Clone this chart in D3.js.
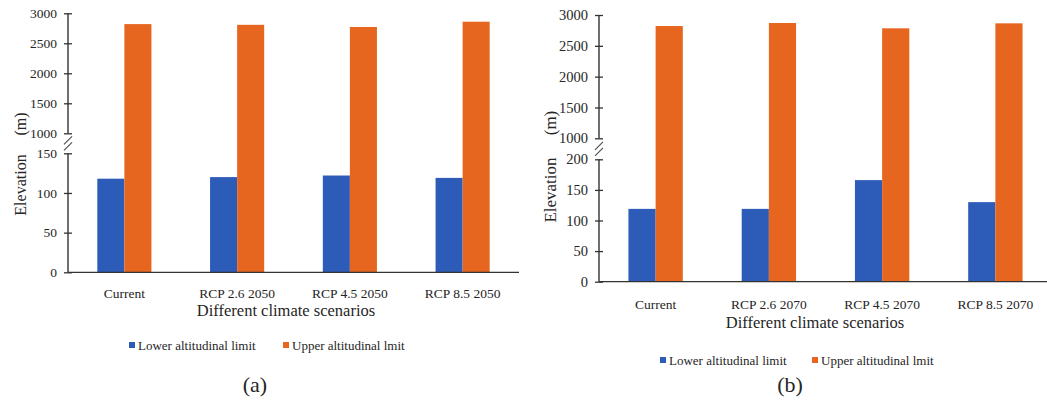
<!DOCTYPE html>
<html>
<head>
<meta charset="utf-8">
<script src="https://cdn.jsdelivr.net/npm/d3@7"></script>
<style>
  html, body { margin: 0; padding: 0; background: #fff; }
  svg { display: block; }
</style>
</head>
<body>
<svg id="chart" width="1047" height="412"></svg>
<script>
// Altitudinal limits of the species under different climate scenarios
const scenarios2050 = ["Current", "RCP 2.6 2050", "RCP 4.5 2050", "RCP 8.5 2050"];
const lower2050 = [118, 120, 122, 119];
const upper2050 = [2820, 2808, 2772, 2860];

const scenarios2070 = ["Current", "RCP 2.6 2070", "RCP 4.5 2070", "RCP 8.5 2070"];
const lower2070 = [119, 119, 166, 130];
const upper2070 = [2821, 2870, 2784, 2865];

const seriesNames = ["Lower altitudinal limit", "Upper altitudinal lmit"];
const seriesColors = ["#2D5BB8", "#E6661F"];

const lowerTicks2050 = [0, 50, 100, 150];
const lowerTicks2070 = [0, 50, 100, 150, 200];
const upperTicks = [1000, 1500, 2000, 2500, 3000];

const FONT = "'Liberation Serif', 'Times New Roman', serif";
const INK = "#262626";

const svg = d3.select("#chart");

function label(sel, size) {
  return sel.style("font-family", FONT).style("font-size", size + "px").attr("fill", INK);
}

function panel(cfg) {
  const g = svg.append("g");

  // broken value axis: lower segment and upper segment stitched into one scale
  const y = d3.scaleLinear()
    .domain([0, cfg.breakLow, 1000, 3000])
    .range(cfg.yRange);

  const x = d3.scaleBand()
    .domain(cfg.categories)
    .range(cfg.xRange)
    .paddingInner(0.52)
    .paddingOuter(0.26);

  const bw = x.bandwidth() / 2;

  // bars
  const rows = cfg.categories.map((c, i) => ({ c, lo: cfg.lower[i], up: cfg.upper[i] }));
  g.selectAll("rect.lo").data(rows).join("rect")
    .attr("x", d => x(d.c))
    .attr("width", bw)
    .attr("y", d => y(d.lo))
    .attr("height", d => y(0) - y(d.lo))
    .attr("fill", seriesColors[0]);
  g.selectAll("rect.up").data(rows).join("rect")
    .attr("x", d => x(d.c) + bw)
    .attr("width", bw)
    .attr("y", d => y(d.up))
    .attr("height", d => y(0) - y(d.up))
    .attr("fill", seriesColors[1]);

  // y axis: ticks crossing the axis line
  const ax = d3.axisLeft(y)
    .tickValues(cfg.lowerTicks.concat(upperTicks))
    .tickSize(4)
    .tickPadding(7)
    .tickFormat(d3.format("d"));
  const axG = g.append("g")
    .attr("transform", `translate(${cfg.xRange[0]},0)`)
    .call(ax);
  axG.select(".domain").remove();
  axG.selectAll(".tick line").attr("x1", 4).attr("x2", -4)
    .attr("stroke", "#333").attr("stroke-width", 1.3);
  label(axG.selectAll(".tick text"), cfg.tickFont);

  const ax0 = cfg.xRange[0];
  // upper and lower axis segments
  g.append("line")
    .attr("x1", ax0).attr("x2", ax0)
    .attr("y1", y(3000)).attr("y2", y(1000))
    .attr("stroke", "#333").attr("stroke-width", 1.4);
  g.append("line")
    .attr("x1", ax0).attr("x2", ax0)
    .attr("y1", y(cfg.breakLow)).attr("y2", y(0))
    .attr("stroke", "#333").attr("stroke-width", 1.4);

  // break marks
  const mid = (y(1000) + y(cfg.breakLow)) / 2;
  [-3, 3].forEach(off => {
    g.append("line")
      .attr("x1", ax0 - 4).attr("y1", mid + off + 4)
      .attr("x2", ax0 + 4).attr("y2", mid + off - 4)
      .attr("stroke", "#555").attr("stroke-width", 1.2);
  });

  // category baseline
  g.append("line")
    .attr("x1", ax0).attr("x2", cfg.xRange[1])
    .attr("y1", y(0)).attr("y2", y(0))
    .attr("stroke", "#333").attr("stroke-width", 1.3);

  // category labels
  label(g.selectAll("text.cat").data(cfg.categories).join("text"), 13.5)
    .attr("class", "cat")
    .attr("x", d => x(d) + x.bandwidth() / 2)
    .attr("y", cfg.catY)
    .attr("text-anchor", "middle")
    .attr("dominant-baseline", "central")
    .text(d => d);

  // axis titles
  label(g.append("text"), 16.5)
    .attr("x", cfg.xTitle[0]).attr("y", cfg.xTitle[1])
    .attr("text-anchor", "middle")
    .attr("dominant-baseline", "central")
    .text("Different climate scenarios");

  label(g.append("text"), cfg.yTitleFont)
    .attr("transform", `translate(${cfg.yTitleX},${cfg.yTitleY}) rotate(-90)`)
    .attr("text-anchor", "middle")
    .attr("dominant-baseline", "central")
    .text("Elevation");
  label(g.append("text"), cfg.yTitleFont)
    .attr("transform", `translate(${cfg.yTitleX},${cfg.yUnitY}) rotate(-90)`)
    .attr("text-anchor", "middle")
    .attr("dominant-baseline", "central")
    .text("(m)");

  // legend
  seriesNames.forEach((name, i) => {
    const lx = cfg.legendX[i];
    g.append("rect")
      .attr("x", lx).attr("y", cfg.legendY - 3)
      .attr("width", 6).attr("height", 6)
      .attr("fill", seriesColors[i]);
    label(g.append("text"), 13)
      .attr("x", lx + 9).attr("y", cfg.legendY)
      .attr("dominant-baseline", "central")
      .text(name);
  });

  // panel caption
  label(g.append("text"), 22)
    .attr("x", cfg.caption[0]).attr("y", cfg.caption[1])
    .attr("text-anchor", "middle")
    .text(cfg.label);
}

panel({
  categories: scenarios2050, lower: lower2050, upper: upper2050,
  breakLow: 150, lowerTicks: lowerTicks2050,
  xRange: [68, 519], yRange: [272.3, 153.3, 133.3, 13.3],
  tickFont: 13.5,
  catY: 293, xTitle: [286, 310],
  yTitleX: 20, yTitleY: 185, yUnitY: 124, yTitleFont: 16,
  legendX: [129, 283], legendY: 345,
  caption: [255, 392], label: "(a)"
});

panel({
  categories: scenarios2070, lower: lower2070, upper: upper2070,
  breakLow: 200, lowerTicks: lowerTicks2070,
  xRange: [599, 1052], yRange: [281.7, 159.3, 138.3, 15],
  tickFont: 14.5,
  catY: 304, xTitle: [815, 322],
  yTitleX: 550, yTitleY: 190, yUnitY: 123, yTitleFont: 17,
  legendX: [660, 812], legendY: 360,
  caption: [790, 392], label: "(b)"
});
</script>
</body>
</html>
